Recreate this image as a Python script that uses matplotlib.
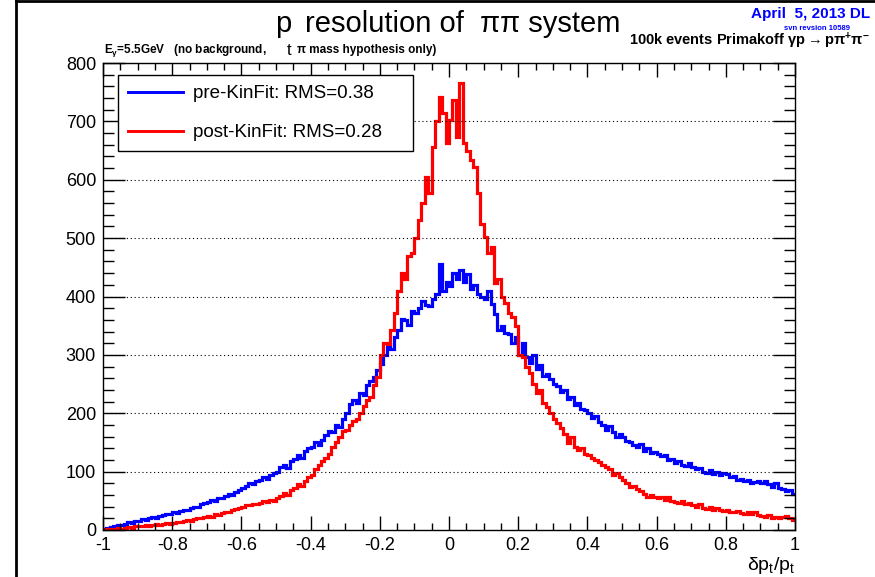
import numpy as np
import matplotlib.pyplot as plt
from matplotlib.lines import Line2D
from matplotlib.ticker import MultipleLocator

plt.rcParams['font.family'] = ['Liberation Sans', 'DejaVu Sans']
plt.rcParams['mathtext.fontset'] = 'custom'
plt.rcParams['mathtext.rm'] = 'Liberation Sans'
plt.rcParams['mathtext.it'] = 'Liberation Sans:italic'
plt.rcParams['mathtext.bf'] = 'Liberation Sans:bold'

# histogram range, 200 bins of 0.01
x_min, x_max, n_bins = -1.0, 1.0, 200

# pre-KinFit counts (blue), 10 bins per row
pre_kinfit = [
    2, 3, 5, 6, 8, 9, 11, 13, 12, 15,
    16, 18, 17, 20, 22, 21, 24, 25, 27, 28,
    30, 29, 33, 35, 34, 38, 40, 39, 44, 46,
    48, 52, 50, 55, 54, 58, 62, 60, 65, 68,
    72, 75, 80, 78, 84, 86, 90, 88, 95, 97,
    100, 108, 112, 106, 118, 122, 128, 124, 135, 140,
    142, 150, 146, 155, 162, 170, 168, 180, 176, 190,
    200, 215, 222, 218, 235, 232, 248, 256, 262, 274,
    285, 300, 318, 310, 330, 342, 362, 360, 352, 376,
    372, 380, 392, 386, 384, 396, 405, 455, 410, 425,
    418, 440, 430, 445, 425, 438, 412, 420, 405, 400,
    395, 410, 388, 370, 342, 350, 338, 335, 320, 331,
    300, 320, 296, 286, 300, 275, 282, 264, 268, 258,
    250, 246, 236, 240, 225, 228, 214, 218, 208, 205,
    200, 192, 196, 185, 180, 172, 178, 168, 160, 165,
    160, 152, 150, 145, 142, 148, 136, 140, 132, 134,
    130, 126, 128, 120, 122, 115, 118, 112, 110, 114,
    108, 104, 106, 100, 98, 102, 96, 100, 94, 98,
    96, 90, 92, 86, 88, 84, 86, 80, 82, 84,
    80, 84, 78, 74, 80, 72, 70, 66, 68, 62,
]

# post-KinFit counts (red)
post_kinfit = [
    0, 1, 1, 2, 3, 2, 4, 5, 4, 6,
    6, 7, 8, 7, 9, 10, 9, 11, 12, 11,
    12, 14, 13, 15, 17, 16, 19, 21, 20, 22,
    24, 23, 27, 26, 29, 31, 30, 34, 36, 38,
    40, 43, 42, 45, 44, 46, 50, 48, 52, 50,
    54, 58, 63, 60, 68, 72, 78, 75, 84, 90,
    95, 104, 112, 118, 124, 130, 142, 150, 160, 170,
    172, 180, 186, 190, 200, 212, 222, 228, 248, 262,
    300, 320, 318, 342, 372, 410, 440, 430, 470, 474,
    500, 531, 560, 604, 578, 656, 700, 741, 715, 663,
    702, 736, 673, 765, 663, 650, 634, 622, 577, 525,
    502, 474, 485, 423, 430, 399, 389, 371, 365, 350,
    300, 296, 280, 269, 250, 234, 240, 217, 210, 200,
    190, 183, 175, 165, 149, 160, 142, 137, 140, 130,
    128, 124, 120, 116, 112, 108, 104, 94, 98, 90,
    86, 80, 74, 76, 70, 66, 62, 57, 60, 56,
    54, 57, 52, 56, 50, 48, 46, 50, 44, 46,
    42, 39, 44, 38, 36, 40, 34, 37, 35, 32,
    34, 31, 30, 33, 29, 28, 31, 27, 30, 26,
    24, 22, 26, 21, 23, 20, 22, 24, 21, 17,
]

xtick_vals = [-1, -0.8, -0.6, -0.4, -0.2, 0, 0.2, 0.4, 0.6, 0.8, 1]
xtick_labels = ['-1', '-0.8', '-0.6', '-0.4', '-0.2', '0', '0.2', '0.4', '0.6', '0.8', '1']
ytick_vals = [0, 100, 200, 300, 400, 500, 600, 700, 800]
legend_labels = ['pre-KinFit: RMS=0.38', 'post-KinFit: RMS=0.28']

W, H = 875, 577
fig = plt.figure(figsize=(W / 100, H / 100), dpi=100)
ax = fig.add_axes([103 / W, 1 - 530 / H, 692 / W, 467 / H])

edges = np.linspace(x_min, x_max, n_bins + 1)
ax.stairs(pre_kinfit, edges, color='#0000ff', lw=2.3, baseline=None)
ax.stairs(post_kinfit, edges, color='#ff0000', lw=2.3, baseline=None)

ax.set_xlim(x_min, x_max)
ax.set_ylim(0, 800)
ax.set_xticks(xtick_vals)
ax.set_xticklabels(xtick_labels, fontsize=13)
ax.set_yticks(ytick_vals)
ax.set_yticklabels([str(v) for v in ytick_vals], fontsize=13)
ax.xaxis.set_minor_locator(MultipleLocator(0.05))
ax.yaxis.set_minor_locator(MultipleLocator(20))
ax.tick_params(axis='both', which='both', direction='in', top=True, right=True, width=1)
ax.tick_params(axis='x', which='major', length=10, pad=5)
ax.tick_params(axis='x', which='minor', length=5)
ax.tick_params(axis='y', which='major', length=16, pad=5)
ax.tick_params(axis='y', which='minor', length=8)
ax.grid(axis='y', which='major', color='black', linestyle=(0, (1, 2.5)), linewidth=0.8)
for s in ax.spines.values():
    s.set_linewidth(1)

ax.set_xlabel(r'$\mathregular{δp_t/p_t}$', fontsize=14, loc='right', labelpad=1)

handles = [Line2D([], [], color='#0000ff', lw=2.1), Line2D([], [], color='#ff0000', lw=2.1)]
leg = ax.legend(handles, legend_labels, loc='upper left',
                bbox_to_anchor=(15 / 692, 1 - 12 / 467, 295 / 692, 0.0), mode='expand',
                borderaxespad=0, fontsize=13.5, handlelength=2.9, handletextpad=0.55,
                labelspacing=1.15, borderpad=0.55, fancybox=False, framealpha=1,
                edgecolor='black')
leg.get_frame().set_linewidth(1)

# title, ROOT style with the subscript dropped below
fig.text(275 / W, 1 - 32 / H, 'p', fontsize=21, va='baseline')
fig.text(287 / W, 1 - 55 / H, 't', fontsize=12, va='baseline')
fig.text(305 / W, 1 - 32 / H, 'resolution of  ππ system', fontsize=21, va='baseline')

fig.text(104 / W, 1 - 53 / H, r'$\mathbf{E_{γ}}$=5.5GeV   (no background,', fontsize=8.5,
         fontweight='bold', va='baseline')
fig.text(297 / W, 1 - 53 / H, 'π mass hypothesis only)', fontsize=8.5,
         fontweight='bold', va='baseline')
fig.text(870 / W, 1 - 45 / H, r'100k events Primakoff $\mathbf{γp\rightarrow pπ^{+}π^{-}}$',
         fontsize=10.5, fontweight='bold', ha='right', va='baseline')
fig.text(870 / W, 1 - 18 / H, 'April  5, 2013 DL', fontsize=11, fontweight='bold',
         color='#0000ff', ha='right', va='baseline')
fig.text(817 / W, 1 - 30 / H, 'svn revsion 10589', fontsize=5.5, fontweight='bold',
         color='#0000ff', ha='center', va='baseline')

# page frame on the left and top
fig.add_artist(Line2D([16 / W, 16 / W], [0, 1 - 1 / H], color='black', lw=2))
fig.add_artist(Line2D([16 / W, 1], [1 - 1 / H, 1 - 1 / H], color='black', lw=2))

fig.savefig('out.png', dpi=100)
